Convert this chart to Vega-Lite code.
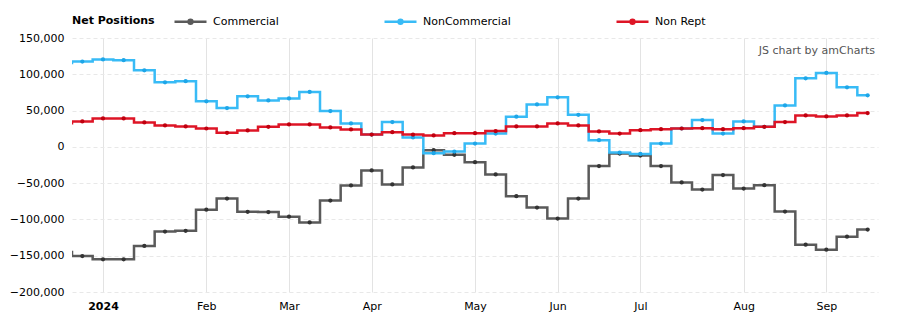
{
  "$schema": "https://vega.github.io/schema/vega-lite/v6.json",
  "width": 806,
  "height": 254,
  "autosize": {"type": "none"},
  "padding": {"left": 72, "top": 38, "right": 20, "bottom": 34},
  "background": "#ffffff",
  "title": {
    "text": "JS chart by amCharts",
    "orient": "top",
    "anchor": "end",
    "frame": "group",
    "offset": 0,
    "baseline": "bottom",
    "dy": 63,
    "dx": -3,
    "font": "DejaVu Sans",
    "fontSize": 11,
    "fontWeight": "normal",
    "color": "#555555"
  },
  "config": {
    "view": {"stroke": null},
    "font": "DejaVu Sans",
    "axis": {"labelFont": "DejaVu Sans", "labelFontSize": 11, "labelColor": "#000000", "domain": false, "ticks": false, "title": null},
    "legend": {"labelFont": "DejaVu Sans", "labelFontSize": 11, "labelColor": "#000000", "titleFont": "DejaVu Sans"}
  },
  "data": {
    "values": [
      {"date": "2023-12-19", "Commercial": -145000, "NonCommercial": 115700, "NonRept": 32700},
      {"date": "2023-12-26", "Commercial": -150500, "NonCommercial": 117500, "NonRept": 35000},
      {"date": "2024-01-02", "Commercial": -155000, "NonCommercial": 120500, "NonRept": 39200},
      {"date": "2024-01-09", "Commercial": -155000, "NonCommercial": 119500, "NonRept": 39200},
      {"date": "2024-01-16", "Commercial": -136600, "NonCommercial": 105500, "NonRept": 33600},
      {"date": "2024-01-23", "Commercial": -116700, "NonCommercial": 88900, "NonRept": 29500},
      {"date": "2024-01-30", "Commercial": -115700, "NonCommercial": 90500, "NonRept": 28100},
      {"date": "2024-02-06", "Commercial": -86600, "NonCommercial": 62700, "NonRept": 25300},
      {"date": "2024-02-13", "Commercial": -71300, "NonCommercial": 53500, "NonRept": 19400},
      {"date": "2024-02-20", "Commercial": -89500, "NonCommercial": 69600, "NonRept": 22600},
      {"date": "2024-02-27", "Commercial": -89800, "NonCommercial": 64000, "NonRept": 27600},
      {"date": "2024-03-05", "Commercial": -96300, "NonCommercial": 66800, "NonRept": 30900},
      {"date": "2024-03-12", "Commercial": -104100, "NonCommercial": 75600, "NonRept": 30900},
      {"date": "2024-03-19", "Commercial": -74000, "NonCommercial": 49300, "NonRept": 26700},
      {"date": "2024-03-26", "Commercial": -53200, "NonCommercial": 32300, "NonRept": 24000},
      {"date": "2024-04-02", "Commercial": -32500, "NonCommercial": 17000, "NonRept": 17000},
      {"date": "2024-04-09", "Commercial": -51800, "NonCommercial": 34100, "NonRept": 20300},
      {"date": "2024-04-16", "Commercial": -28300, "NonCommercial": 12900, "NonRept": 17000},
      {"date": "2024-04-23", "Commercial": -4600, "NonCommercial": -8800, "NonRept": 15700},
      {"date": "2024-04-30", "Commercial": -11000, "NonCommercial": -6500, "NonRept": 18900},
      {"date": "2024-05-07", "Commercial": -21200, "NonCommercial": 4600, "NonRept": 18900},
      {"date": "2024-05-14", "Commercial": -38000, "NonCommercial": 18400, "NonRept": 21700},
      {"date": "2024-05-21", "Commercial": -67900, "NonCommercial": 41500, "NonRept": 28100},
      {"date": "2024-05-28", "Commercial": -83600, "NonCommercial": 58500, "NonRept": 28100},
      {"date": "2024-06-04", "Commercial": -98800, "NonCommercial": 68200, "NonRept": 32300},
      {"date": "2024-06-11", "Commercial": -71200, "NonCommercial": 44200, "NonRept": 29500},
      {"date": "2024-06-18", "Commercial": -26500, "NonCommercial": 9200, "NonRept": 21200},
      {"date": "2024-06-25", "Commercial": -9200, "NonCommercial": -7800, "NonRept": 18400},
      {"date": "2024-07-02", "Commercial": -12000, "NonCommercial": -9700, "NonRept": 23000},
      {"date": "2024-07-09", "Commercial": -26500, "NonCommercial": 4600, "NonRept": 24400},
      {"date": "2024-07-16", "Commercial": -49100, "NonCommercial": 25300, "NonRept": 25300},
      {"date": "2024-07-23", "Commercial": -58800, "NonCommercial": 36900, "NonRept": 25800},
      {"date": "2024-07-30", "Commercial": -38900, "NonCommercial": 18400, "NonRept": 24400},
      {"date": "2024-08-06", "Commercial": -57400, "NonCommercial": 35000, "NonRept": 25800},
      {"date": "2024-08-13", "Commercial": -52800, "NonCommercial": 27600, "NonRept": 27600},
      {"date": "2024-08-20", "Commercial": -89200, "NonCommercial": 57100, "NonRept": 34100},
      {"date": "2024-08-27", "Commercial": -134800, "NonCommercial": 94500, "NonRept": 43300},
      {"date": "2024-09-03", "Commercial": -141700, "NonCommercial": 101800, "NonRept": 41900},
      {"date": "2024-09-10", "Commercial": -123700, "NonCommercial": 82000, "NonRept": 43300},
      {"date": "2024-09-17", "Commercial": -114000, "NonCommercial": 71000, "NonRept": 46500}
    ]
  },
  "transform": [
    {"fold": ["Commercial", "NonCommercial", "NonRept"], "as": ["series", "value"]}
  ],
  "encoding": {
    "x": {
      "field": "date",
      "type": "temporal",
      "scale": {
        "type": "utc",
        "domain": [
          {"year": 2023, "month": 12, "date": 22, "hours": 12, "utc": true},
          {"year": 2024, "month": 9, "date": 20, "hours": 12, "utc": true}
        ]
      },
      "axis": {
        "values": [
          {"year": 2024, "month": 1, "date": 2, "utc": true},
          {"year": 2024, "month": 2, "date": 6, "utc": true},
          {"year": 2024, "month": 3, "date": 5, "utc": true},
          {"year": 2024, "month": 4, "date": 2, "utc": true},
          {"year": 2024, "month": 5, "date": 7, "utc": true},
          {"year": 2024, "month": 6, "date": 4, "utc": true},
          {"year": 2024, "month": 7, "date": 2, "utc": true},
          {"year": 2024, "month": 8, "date": 6, "utc": true},
          {"year": 2024, "month": 9, "date": 3, "utc": true}
        ],
        "labelExpr": "utcmonth(datum.value) == 0 ? '2024' : utcFormat(datum.value, '%b')",
        "labelFontWeight": {"condition": {"test": "utcmonth(datum.value) == 0", "value": "bold"}, "value": "normal"},
        "labelPadding": 8,
        "grid": true,
        "gridColor": "#e3e3e3",
        "gridWidth": 1,
        "labelFlush": false,
        "labelOverlap": false
      }
    },
    "y": {
      "field": "value",
      "type": "quantitative",
      "scale": {"domain": [-200000, 150000], "nice": false, "zero": false},
      "axis": {
        "values": [-200000, -150000, -100000, -50000, 0, 50000, 100000, 150000],
        "format": ",d",
        "labelPadding": 8,
        "labelOverlap": false,
        "labelFlush": false,
        "grid": true,
        "gridColor": "#e8e8e8",
        "gridDash": [4, 3],
        "gridWidth": 1
      }
    }
  },
  "layer": [
    {
      "transform": [{"filter": "datum.series == 'Commercial'"}],
      "layer": [
        {
          "mark": {"type": "line", "interpolate": "step", "strokeWidth": 2.5, "clip": true},
          "encoding": {
            "color": {
              "datum": "Commercial",
              "type": "nominal",
              "scale": {"domain": ["Commercial", "NonCommercial", "Non Rept"], "range": ["#5a5a5a", "#38bbf6", "#de1526"]},
              "legend": {
                "title": "Net Positions",
                "titleOrient": "left",
                "titleAnchor": "middle",
                "titleBaseline": "line-top",
                "titleLineHeight": 10,
                "titleFontWeight": "bold",
                "titleFontSize": 11,
                "titleColor": "#000000",
                "titlePadding": 18,
                "orient": "none",
                "legendX": 0,
                "legendY": -34,
                "direction": "horizontal",
                "columnPadding": 100,
                "labelOffset": 5,
                "symbolType": "M-1,0H1M-0.12,0A0.12,0.12,0,1,0,0.12,0A0.12,0.12,0,1,0,-0.12,0Z",
                "symbolSize": 1024,
                "symbolStrokeWidth": 2.5
              }
            }
          }
        },
        {"mark": {"type": "point", "filled": true, "size": 18, "opacity": 1, "color": "#333333", "clip": true}}
      ]
    },
    {
      "transform": [{"filter": "datum.series == 'NonCommercial'"}],
      "layer": [
        {
          "mark": {"type": "line", "interpolate": "step", "strokeWidth": 2.5, "clip": true},
          "encoding": {"color": {"datum": "NonCommercial", "type": "nominal"}}
        },
        {"mark": {"type": "point", "filled": true, "size": 18, "opacity": 1, "color": "#1ea6e8", "clip": true}}
      ]
    },
    {
      "transform": [{"filter": "datum.series == 'NonRept'"}],
      "layer": [
        {
          "mark": {"type": "line", "interpolate": "step", "strokeWidth": 2.5, "clip": true},
          "encoding": {"color": {"datum": "Non Rept", "type": "nominal"}}
        },
        {"mark": {"type": "point", "filled": true, "size": 18, "opacity": 1, "color": "#c0000f", "clip": true}}
      ]
    }
  ]
}
